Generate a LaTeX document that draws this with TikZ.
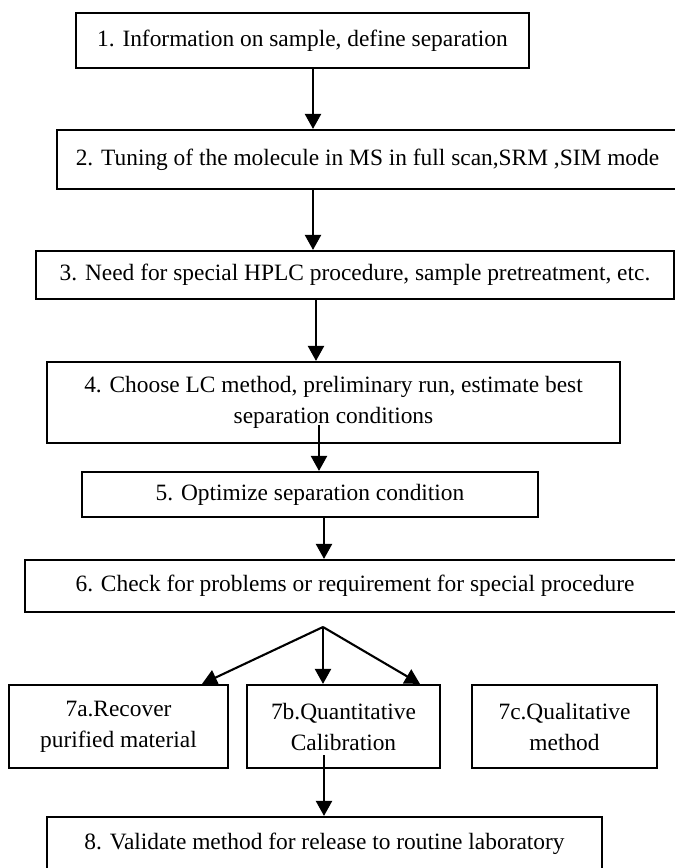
\documentclass[tikz,border=0pt]{standalone}
\usepackage{fontspec}
\setmainfont{Liberation Serif}
\usetikzlibrary{arrows.meta}
\begin{document}
\begin{tikzpicture}[x=1pt,y=-1pt,
  box/.style={draw, line width=2.1pt, inner sep=0pt, align=center, font=\fontsize{23.4pt}{31pt}\selectfont},
  arr/.style={line width=2.1pt, -{Triangle[length=15pt,width=16pt]}}]
\useasboundingbox (0,0) rectangle (675,868);
\clip (0,0) rectangle (675,868);
\node[box, minimum width=453pt, minimum height=55pt] (b1) at (302.5,40.5) {1. Information on sample, define separation};
\node[box, minimum width=621pt, minimum height=59pt] (b2) at (367.5,159.5) {2. Tuning of the molecule in MS in full scan,SRM ,SIM mode};
\node[box, minimum width=638pt, minimum height=48pt] (b3) at (355,275) {3. Need for special HPLC procedure, sample pretreatment, etc.};
\node[box, minimum width=573pt, minimum height=81pt] (b4) at (333.5,402.5) {4. Choose LC method, preliminary run, estimate best\\separation conditions};
\node[box, minimum width=456pt, minimum height=45pt] (b5) at (310,494.5) {5. Optimize separation condition};
\node[box, minimum width=660pt, minimum height=52pt] (b6) at (355,586) {6. Check for problems or requirement for special procedure};
\node[box, minimum width=219pt, minimum height=83pt] (b7a) at (118.5,726.5) {7a.Recover\\purified material};
\node[box, minimum width=193pt, minimum height=83pt] (b7b) at (343.5,726.5) {7b.Quantitative\\Calibration};
\node[box, minimum width=185pt, minimum height=83pt] (b7c) at (564.5,726.5) {7c.Qualitative\\method};
\node[box, minimum width=555pt, minimum height=53pt] (b8) at (324.5,843.5) {8. Validate method for release to routine laboratory};

\coordinate (x1) at (313,0);
\coordinate (x3) at (316,0);
\coordinate (s4) at (319,425);
\coordinate (x5) at (324,0);
\coordinate (split) at (323,627);
\coordinate (ta) at (202,0);
\coordinate (tc) at (420,0);
\coordinate (s7) at (324,755);

\draw[arr] (x1 |- b1.south) -- (x1 |- b2.north);
\draw[arr] (x1 |- b2.south) -- (x1 |- b3.north);
\draw[arr] (x3 |- b3.south) -- (x3 |- b4.north);
\draw[arr] (s4) -- (s4 |- b5.north);
\draw[arr] (x5 |- b5.south) -- (x5 |- b6.north);
\draw[arr] (split) -- (ta |- b7a.north);
\draw[arr] (split) -- (split |- b7b.north);
\draw[arr] (split) -- (tc |- b7b.north);
\draw[arr] (s7) -- (s7 |- b8.north);
\end{tikzpicture}
\end{document}
